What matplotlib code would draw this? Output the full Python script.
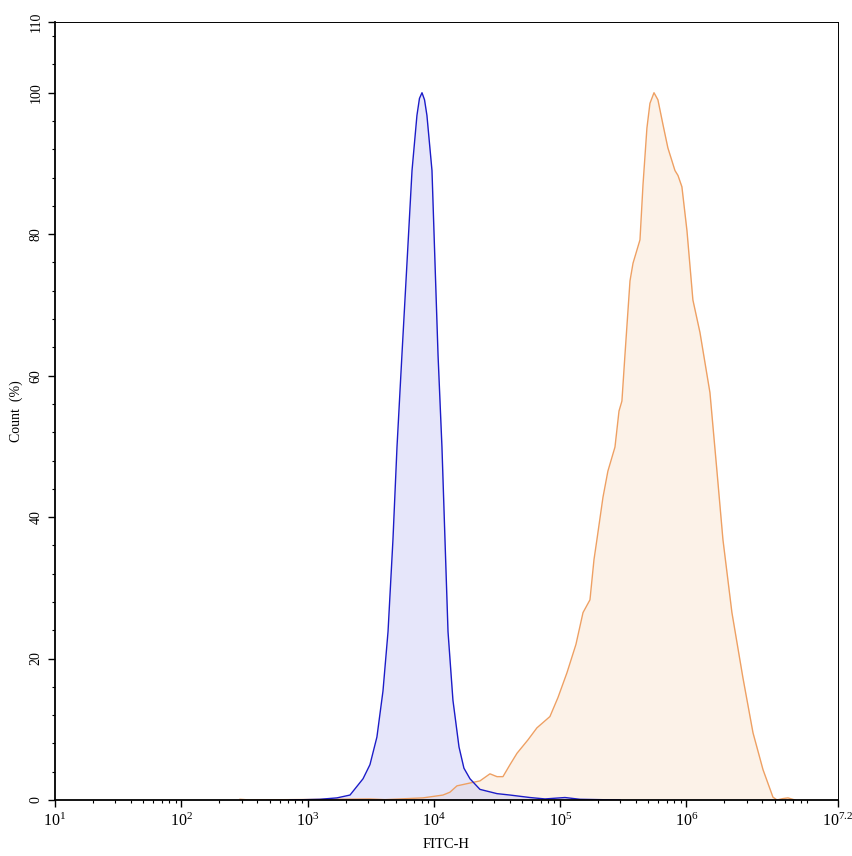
import numpy as np
import matplotlib
matplotlib.use("Agg")
import matplotlib.pyplot as plt
from matplotlib.ticker import FixedLocator, NullFormatter

plt.rcParams['font.family'] = ['Liberation Serif', 'DejaVu Serif']
plt.rcParams['mathtext.fontset'] = 'custom'
plt.rcParams['mathtext.rm'] = 'Liberation Serif'

# control sample (blue), log10 of FITC-H and count in %
ctrl_log = [2.861, 3.098, 3.233, 3.336, 3.439, 3.494, 3.549, 3.597, 3.637, 3.676,
            3.708, 3.747, 3.787, 3.827, 3.866, 3.886, 3.906, 3.926, 3.945, 3.985,
            4.009, 4.033, 4.064, 4.088, 4.112, 4.151, 4.199, 4.238, 4.286, 4.365,
            4.500, 4.603, 4.761, 4.880, 5.038, 5.157, 5.474]
ctrl_cnt = [0.0, 0.1, 0.3, 0.7, 3.0, 5.0, 8.9, 15.4, 23.8, 36.8,
            49.9, 62.9, 75.9, 89.0, 96.8, 99.2, 100.0, 99.0, 96.8, 89.0,
            75.9, 62.9, 49.9, 36.8, 23.8, 14.1, 7.5, 4.5, 3.0, 1.5,
            0.9, 0.7, 0.35, 0.15, 0.35, 0.1, 0.0]

# stained sample (orange)
stain_log = [2.465, 2.544, 3.494, 3.613, 3.914, 4.072, 4.127, 4.183, 4.286, 4.365,
             4.444, 4.500, 4.547, 4.603, 4.658, 4.745, 4.816, 4.919, 4.983, 5.054,
             5.125, 5.181, 5.236, 5.268, 5.291, 5.339, 5.378, 5.434, 5.466, 5.489,
             5.513, 5.553, 5.577, 5.632, 5.656, 5.687, 5.711, 5.743, 5.774, 5.814,
             5.853, 5.909, 5.933, 5.964, 6.004, 6.051, 6.107, 6.186, 6.241, 6.289,
             6.360, 6.447, 6.527, 6.606, 6.685, 6.717, 6.764, 6.804, 6.859]
stain_cnt = [0.1, 0.0, 0.15, 0.05, 0.3, 0.7, 1.1, 2.0, 2.4, 2.7,
             3.7, 3.3, 3.3, 5.0, 6.6, 8.5, 10.2, 11.8, 14.5, 18.0,
             22.0, 26.5, 28.3, 34.0, 36.8, 42.8, 46.5, 49.9, 55.0, 56.4,
             62.9, 73.4, 75.9, 79.2, 87.0, 95.0, 98.5, 100.0, 99.0, 95.5,
             92.2, 89.0, 88.3, 86.7, 80.5, 70.7, 66.1, 57.6, 46.6, 36.8,
             26.5, 17.3, 9.5, 4.3, 0.4, 0.0, 0.2, 0.3, 0.0]

x_exps = [1, 2, 3, 4, 5, 6, 7.2]
y_ticks = [0, 20, 40, 60, 80, 100, 110]

fig = plt.figure(figsize=(8.53, 8.56), dpi=100)
ax = fig.add_axes([55/853, 56/856, 783/853, 778/856])

xs = 10 ** np.array(stain_log)
ax.fill_between(xs, stain_cnt, color='#fbe8d6', alpha=0.55, lw=0)
ax.plot(xs, stain_cnt, color='#eea063', lw=1)

xs = 10 ** np.array(ctrl_log)
ax.fill_between(xs, ctrl_cnt, color='#c8c8f5', alpha=0.45, lw=0)
ax.plot(xs, ctrl_cnt, color='#1c1cc8', lw=1)

ax.set_xscale('log')
ax.set_xlim(10 ** 1, 10 ** 7.2)
ax.set_ylim(0, 110)

ax.xaxis.set_major_locator(FixedLocator([10 ** e for e in x_exps]))
ax.set_xticklabels([r'$\mathregular{10^{%g}}$' % e for e in x_exps], fontsize=11.5)
minors = [m * 10 ** d for d in range(1, 8) for m in range(2, 10) if m * 10 ** d < 10 ** 7.2]
ax.xaxis.set_minor_locator(FixedLocator(minors))
ax.xaxis.set_minor_formatter(NullFormatter())

ax.yaxis.set_major_locator(FixedLocator(y_ticks))
ax.set_yticklabels([str(t) for t in y_ticks], rotation=90, va='center', fontsize=10)
ax.yaxis.set_minor_locator(FixedLocator(list(range(0, 111, 4))))

ax.tick_params(which='major', length=5, width=1, direction='out', pad=4)
ax.tick_params(which='minor', length=2.5, width=0.8, direction='out')

ax.spines['left'].set_linewidth(1.3)
ax.spines['bottom'].set_linewidth(1.3)
ax.spines['top'].set_linewidth(0.7)
ax.spines['right'].set_linewidth(0.7)

ax.set_xlabel('FITC-H', fontsize=10.5, labelpad=6)
ax.set_ylabel('Count  (%)', fontsize=10, labelpad=5)

fig.savefig('out.png', dpi=100)
